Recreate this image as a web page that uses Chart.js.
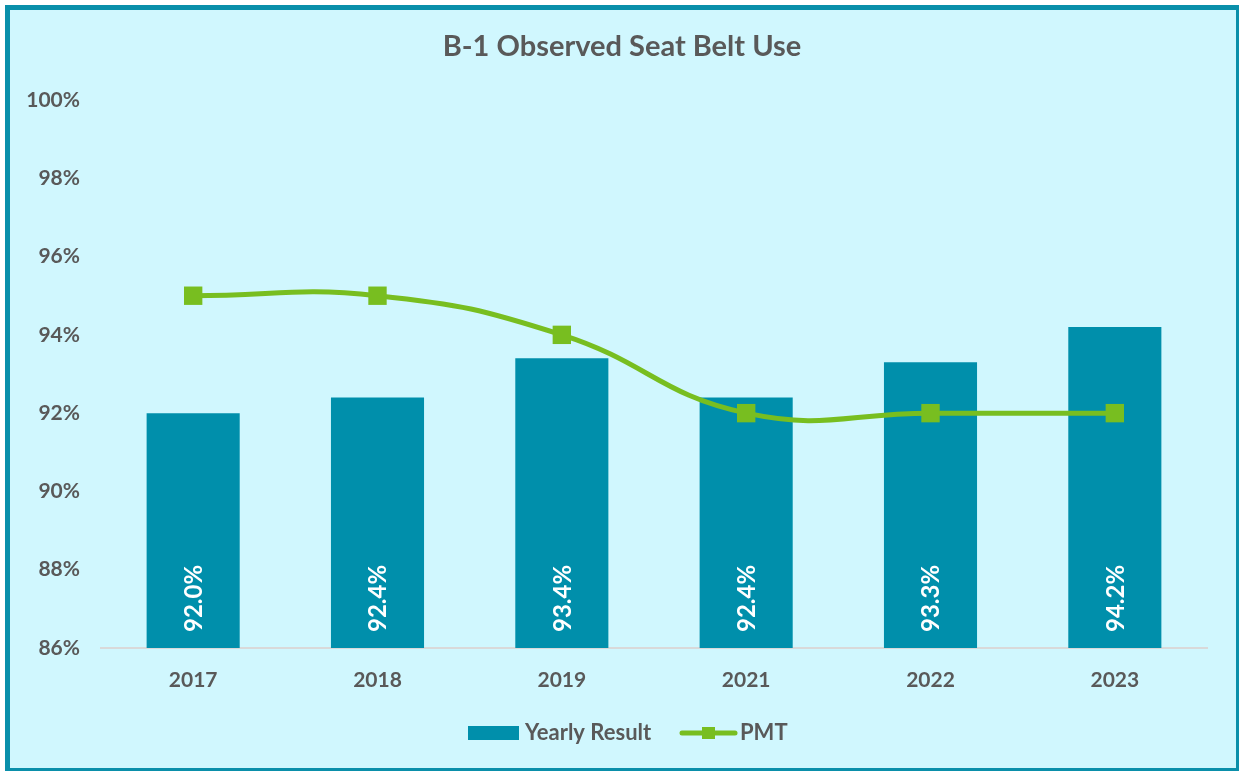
<!DOCTYPE html>
<html>
<head>
<meta charset="utf-8">
<script src="https://cdn.jsdelivr.net/npm/chart.js@4/dist/chart.umd.min.js"></script>
<style>
  html, body { margin: 0; padding: 0; background: #ffffff; overflow: hidden; }
  #frame { position: absolute; left: 5px; top: 5px; width: 1226px; height: 758px; border: 5px solid #0A8FAA; background: #D0F7FE; }
  #wrap { position: absolute; left: 0; top: 0; width: 1239px; height: 771px; }
</style>
</head>
<body>
<div id="frame"></div>
<div id="wrap"><canvas id="c" width="1239" height="771"></canvas></div>
<script>
const categories = ['2017', '2018', '2019', '2021', '2022', '2023'];
const yearlyResult = [92.0, 92.4, 93.4, 92.4, 93.3, 94.2];
const pmt = [95, 95, 94, 92, 92, 92];
const yTicks = [86, 88, 90, 92, 94, 96, 98, 100];
const titleText = 'B-1 Observed Seat Belt Use';
const seriesNames = ['Yearly Result', 'PMT'];

const FONT = 'Lato, "Open Sans", sans-serif';
const GRAY = '#595959';
const BAR = '#008FAB';
const GREEN = '#78BE20';

const decor = {
  id: 'decor',
  afterDatasetsDraw(chart) {
    const ctx = chart.ctx;
    const meta = chart.getDatasetMeta(0);
    const yScale = chart.scales.y;
    ctx.save();
    ctx.fillStyle = '#ffffff';
    ctx.font = 'bold 24px ' + FONT;
    ctx.textAlign = 'left';
    ctx.textBaseline = 'middle';
    meta.data.forEach((bar, i) => {
      ctx.save();
      ctx.translate(bar.x, yScale.bottom - 16);
      ctx.rotate(-Math.PI / 2);
      ctx.fillText(yearlyResult[i].toFixed(1) + '%', 0, 1);
      ctx.restore();
    });
    ctx.restore();
  },
  afterDraw(chart) {
    const ctx = chart.ctx;
    ctx.save();
    // title
    ctx.fillStyle = GRAY;
    ctx.font = 'bold 29px ' + FONT;
    ctx.textAlign = 'center';
    ctx.textBaseline = 'middle';
    ctx.fillText(titleText, 622, 47);
    // legend
    const ly = 733;
    ctx.fillStyle = BAR;
    ctx.fillRect(468, ly - 7, 51, 14);
    ctx.fillStyle = GRAY;
    ctx.font = 'bold 22px ' + FONT;
    ctx.textAlign = 'left';
    ctx.fillText(seriesNames[0], 525, ly);
    ctx.strokeStyle = GREEN;
    ctx.lineWidth = 5;
    ctx.lineCap = 'round';
    ctx.beginPath();
    ctx.moveTo(682, ly);
    ctx.lineTo(735, ly);
    ctx.stroke();
    ctx.fillStyle = GREEN;
    ctx.fillRect(702, ly - 6, 13, 12);
    ctx.fillStyle = GRAY;
    ctx.fillText(seriesNames[1], 740, ly);
    ctx.restore();
  }
};

new Chart(document.getElementById('c'), {
  data: {
    labels: categories,
    datasets: [
      {
        type: 'line',
        label: seriesNames[1],
        data: pmt,
        borderColor: GREEN,
        backgroundColor: GREEN,
        borderWidth: 5,
        tension: 0.45,
        pointStyle: 'rect',
        pointRadius: 13,
        pointHoverRadius: 13,
        pointBackgroundColor: GREEN,
        pointBorderWidth: 0,
        order: 0
      },
      {
        type: 'bar',
        label: seriesNames[0],
        data: yearlyResult,
        backgroundColor: BAR,
        borderWidth: 0,
        barPercentage: 1.0,
        categoryPercentage: 0.505,
        order: 1
      }
    ]
  },
  options: {
    responsive: false,
    animation: false,
    events: [],
    layout: { padding: { left: 0, right: 32, top: 100, bottom: 0 } },
    plugins: {
      legend: { display: false },
      title: { display: false },
      tooltip: { enabled: false }
    },
    scales: {
      x: {
        type: 'category',
        grid: { display: false, drawTicks: false },
        border: { display: true, color: '#D9D9D9', width: 2 },
        ticks: { color: GRAY, font: { family: FONT, size: 21, weight: 'bold' }, padding: 20 },
        afterFit(scale) { scale.height = 123; }
      },
      y: {
        type: 'linear',
        min: 86,
        max: 100,
        afterBuildTicks(scale) { scale.ticks = yTicks.map(v => ({ value: v })); },
        grid: { display: false, drawTicks: false },
        border: { display: false },
        ticks: {
          color: GRAY,
          font: { family: FONT, size: 21, weight: 'bold' },
          padding: 21,
          callback: v => v + '%'
        },
        afterFit(scale) { scale.width = 101; }
      }
    }
  },
  plugins: [decor]
});
</script>
</body>
</html>
